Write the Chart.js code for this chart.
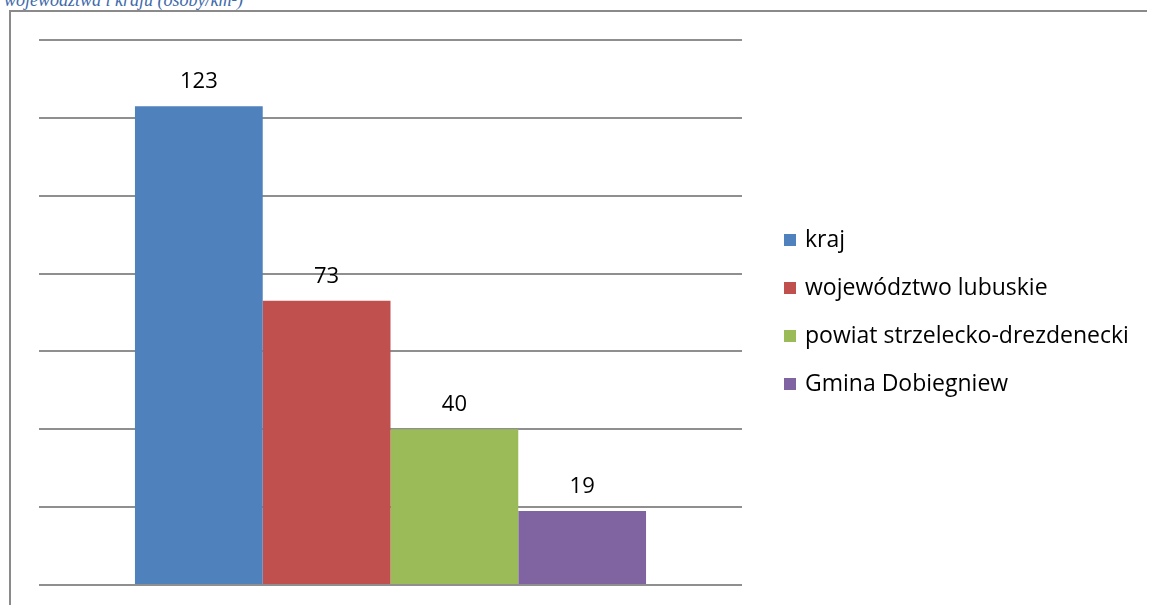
<!DOCTYPE html>
<html>
<head>
<meta charset="utf-8">
<script src="https://cdn.jsdelivr.net/npm/chart.js@4"></script>
<style>
  html, body { margin: 0; padding: 0; background: #fff; overflow: hidden; }
  #wrap { position: relative; width: 1149px; height: 605px; }
  #title {
    position: absolute; left: 4px; top: -10px;
    font: italic 18px "Liberation Serif", "DejaVu Serif", serif;
    color: #3e6baa; white-space: nowrap;
  }
  #frame {
    position: absolute; left: 9px; top: 10px; width: 1136px; height: 620px;
    border-left: 2px solid #8a8a8a; border-top: 2px solid #8a8a8a;
  }
  canvas { position: absolute; left: 0; top: 0; }
</style>
</head>
<body>
<div id="wrap">
  <div id="title">województwa i kraju (osoby/km²)</div>
  <div id="frame"></div>
  <canvas id="chart" width="1149" height="605"></canvas>
</div>
<script>
// gęstość zaludnienia
const series = ["kraj", "województwo lubuskie", "powiat strzelecko-drezdenecki", "Gmina Dobiegniew"];
const values = [123, 73, 40, 19];
const colors = ["#4f81bd", "#c0504d", "#9bbb59", "#8064a2"];
const yMax = 140;
const yStep = 20;

// etykiety wartości nad słupkami
const valueLabels = {
  id: "valueLabels",
  afterDatasetsDraw(chart) {
    const ctx = chart.ctx;
    ctx.save();
    ctx.font = "22px 'Open Sans', 'Noto Sans', sans-serif";
    ctx.fillStyle = "#000";
    ctx.textAlign = "center";
    ctx.textBaseline = "alphabetic";
    chart.data.datasets.forEach((ds, i) => {
      const bar = chart.getDatasetMeta(i).data[0];
      ctx.fillText(ds.data[0], bar.x, bar.y - 18);
    });
    ctx.restore();
  }
};

// legenda po prawej
const sideLegend = {
  id: "sideLegend",
  afterDraw(chart) {
    const ctx = chart.ctx;
    ctx.save();
    ctx.font = "23px 'Open Sans', 'Noto Sans', sans-serif";
    ctx.textBaseline = "middle";
    chart.data.datasets.forEach((ds, i) => {
      const y = 240 + i * 48;
      ctx.fillStyle = ds.backgroundColor;
      ctx.fillRect(784, y - 6, 12, 12);
      ctx.fillStyle = "#000";
      ctx.fillText(ds.label, 805, y);
    });
    ctx.restore();
  }
};

new Chart(document.getElementById("chart"), {
  type: "bar",
  data: {
    labels: [""],
    datasets: series.map((s, i) => ({
      label: s,
      data: [values[i]],
      backgroundColor: colors[i],
      barPercentage: 1,
      categoryPercentage: 0.727
    }))
  },
  options: {
    responsive: false,
    animation: false,
    layout: { padding: { left: 39, right: 407, top: 40, bottom: 20 } },
    plugins: { legend: { display: false }, tooltip: { enabled: false } },
    scales: {
      x: { display: false },
      y: {
        min: 0, max: yMax,
        ticks: { display: false, stepSize: yStep },
        border: { display: false },
        grid: { color: "#8f8f8f", lineWidth: 2, drawTicks: false }
      }
    }
  },
  plugins: [valueLabels, sideLegend]
});
</script>
</body>
</html>
